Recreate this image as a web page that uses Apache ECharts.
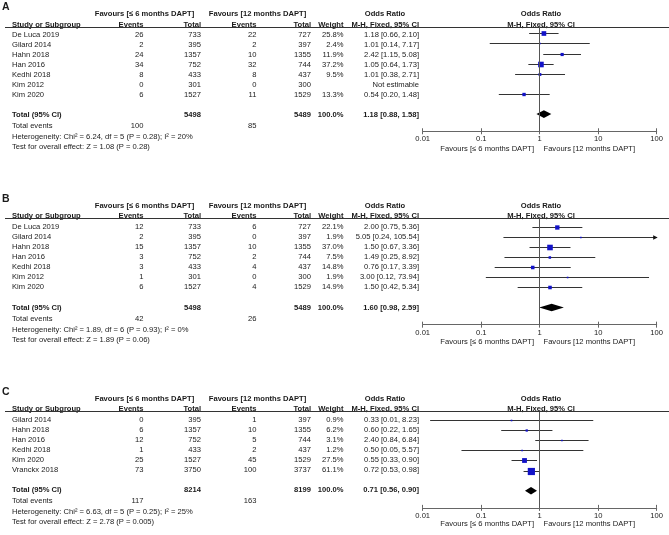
<!DOCTYPE html>
<html><head><meta charset="utf-8">
<script src="https://cdn.jsdelivr.net/npm/echarts@6/dist/echarts.min.js"></script>
<style>html,body{margin:0;padding:0;background:#fff}#c{width:669px;height:535px}</style>
</head><body><div id="c"></div><script>
// ---------------- DATA ----------------
const tickValues = [0.01, 0.1, 1, 10, 100];

// Panel A
const studiesA = ['De Luca 2019','Gilard 2014','Hahn 2018','Han 2016','Kedhi 2018','Kim 2012','Kim 2020'];
const eventsShortA = [26, 2, 24, 34, 8, 0, 6];
const totalShortA = [733, 395, 1357, 752, 433, 301, 1527];
const eventsLongA = [22, 2, 10, 32, 8, 0, 11];
const totalLongA = [727, 397, 1355, 744, 437, 300, 1529];
const weightA = [25.8, 2.4, 11.9, 37.2, 9.5, null, 13.3];
const orA = [1.18, 1.01, 2.42, 1.05, 1.01, null, 0.54];
const lowA = [0.66, 0.14, 1.15, 0.64, 0.38, null, 0.20];
const highA = [2.10, 7.17, 5.08, 1.73, 2.71, null, 1.48];
const totalsA = [5498, 5489];            // participants
const totalEventsA = [100, 85];
const pooledA = [1.18, 0.88, 1.58];      // OR, low, high
const hetA = 'Heterogeneity: Chi\u00b2 = 6.24, df = 5 (P = 0.28); I\u00b2 = 20%';
const testA = 'Test for overall effect: Z = 1.08 (P = 0.28)';

// Panel B
const studiesB = ['De Luca 2019','Gilard 2014','Hahn 2018','Han 2016','Kedhi 2018','Kim 2012','Kim 2020'];
const eventsShortB = [12, 2, 15, 3, 3, 1, 6];
const totalShortB = [733, 395, 1357, 752, 433, 301, 1527];
const eventsLongB = [6, 0, 10, 2, 4, 0, 4];
const totalLongB = [727, 397, 1355, 744, 437, 300, 1529];
const weightB = [22.1, 1.9, 37.0, 7.5, 14.8, 1.9, 14.9];
const orB = [2.00, 5.05, 1.50, 1.49, 0.76, 3.00, 1.50];
const lowB = [0.75, 0.24, 0.67, 0.25, 0.17, 0.12, 0.42];
const highB = [5.36, 105.54, 3.36, 8.92, 3.39, 73.94, 5.34];
const totalsB = [5498, 5489];
const totalEventsB = [42, 26];
const pooledB = [1.60, 0.98, 2.59];
const hetB = 'Heterogeneity: Chi\u00b2 = 1.89, df = 6 (P = 0.93); I\u00b2 = 0%';
const testB = 'Test for overall effect: Z = 1.89 (P = 0.06)';

// Panel C
const studiesC = ['Gilard 2014','Hahn 2018','Han 2016','Kedhi 2018','Kim 2020','Vranckx 2018'];
const eventsShortC = [0, 6, 12, 1, 25, 73];
const totalShortC = [395, 1357, 752, 433, 1527, 3750];
const eventsLongC = [1, 10, 5, 2, 45, 100];
const totalLongC = [397, 1355, 744, 437, 1529, 3737];
const weightC = [0.9, 6.2, 3.1, 1.2, 27.5, 61.1];
const orC = [0.33, 0.60, 2.40, 0.50, 0.55, 0.72];
const lowC = [0.0134, 0.22, 0.84, 0.046, 0.33, 0.53];
const highC = [8.23, 1.65, 6.84, 5.57, 0.90, 0.98];
const totalsC = [8214, 8199];
const totalEventsC = [117, 163];
const pooledC = [0.71, 0.56, 0.90];
const hetC = 'Heterogeneity: Chi\u00b2 = 6.63, df = 5 (P = 0.25); I\u00b2 = 25%';
const testC = 'Test for overall effect: Z = 2.78 (P = 0.005)';

const groupShort = 'Favours [\u2264 6 months DAPT]';
const groupLong = 'Favours [12 months DAPT]';

// ---------------- LAYOUT ----------------
const FONT = '"Liberation Sans", Arial, Helvetica, sans-serif';
const FS = 7.6;
const SP = 10.1;
const TXT = '#1a1a1a';
const COL = {study:12, ev1:143.5, tot1:201, ev2:256.5, tot2:311, wt:343.5, orTxt:419,
             hdrShort:144.5, hdrLong:257.5, orHdr:385, forestL:422.7, forestW:234, forestHdr:541,
             favLeftEnd:534, favRightStart:543.5};

const panels = [
  {label:'A', base:33.3, studies:studiesA, ev1:eventsShortA, t1:totalShortA, ev2:eventsLongA, t2:totalLongA, w:weightA, or:orA, lo:lowA, hi:highA, totals:totalsA, tev:totalEventsA, pooled:pooledA, het:hetA, test:testA},
  {label:'B', base:226.7, studies:studiesB, ev1:eventsShortB, t1:totalShortB, ev2:eventsLongB, t2:totalLongB, w:weightB, or:orB, lo:lowB, hi:highB, totals:totalsB, tev:totalEventsB, pooled:pooledB, het:hetB, test:testB},
  {label:'C', base:420, studies:studiesC, ev1:eventsShortC, t1:totalShortC, ev2:eventsLongC, t2:totalLongC, w:weightC, or:orC, lo:lowC, hi:highC, totals:totalsC, tev:totalEventsC, pooled:pooledC, het:hetC, test:testC}
];

const fmtCI = (o, l, h) => `${o.toFixed(2)} [${l.toFixed(2)}, ${h.toFixed(2)}]`;

const grid = [], xAxis = [], yAxis = [], series = [];

panels.forEach((p, pi) => {
  const n = p.studies.length;
  const T = n + 1;               // total row index
  const AX = T + 1.7;            // forest axis row
  const UL = -0.8;               // header underline row
  const tMin = -3.5, tMax = T + 4.5;
  const gT = grid.length, gF = gT + 1;

  grid.push({left:5, width:664, top:p.base + tMin*SP, height:(tMax - tMin)*SP});
  grid.push({left:COL.forestL, width:COL.forestW, top:p.base + UL*SP, height:(AX - UL)*SP});

  const xT = xAxis.length;
  xAxis.push({gridIndex:gT, type:'value', min:5, max:669, show:false});
  const xF = xAxis.length;
  xAxis.push({gridIndex:gF, type:'log', logBase:10, min:tickValues[0], max:tickValues[tickValues.length-1], position:'bottom',
    axisLine:{onZero:false, lineStyle:{color:'#666', width:1}},
    axisTick:{length:3, lineStyle:{color:'#666'}},
    axisLabel:{fontSize:FS, fontFamily:FONT, color:TXT, margin:4},
    splitLine:{show:false}});
  xAxis.push({gridIndex:gF, type:'log', logBase:10, min:tickValues[0], max:tickValues[tickValues.length-1], position:'bottom',
    axisLine:{show:false, onZero:false},
    axisTick:{inside:true, length:3, lineStyle:{color:'#666'}},
    axisLabel:{show:false}, splitLine:{show:false}});
  const yT = yAxis.length;
  yAxis.push({gridIndex:gT, type:'value', min:tMin, max:tMax, inverse:true, show:false});
  const yF = yAxis.length;
  yAxis.push({gridIndex:gF, type:'value', min:UL, max:AX, inverse:true, show:false});

  // ---- text items ----
  const items = [];
  const add = (x, k, t, a, bold, size) => items.push({x, k, t:String(t), a:a||'left', b:!!bold, s:size||FS});
  add(2, -2.75, p.label, 'left', true, 10.5);
  add(COL.hdrShort, -2.1, groupShort, 'center', true);
  add(COL.hdrLong, -2.1, groupLong, 'center', true);
  add(COL.orHdr, -2.1, 'Odds Ratio', 'center', true);
  add(COL.forestHdr, -2.1, 'Odds Ratio', 'center', true);
  add(COL.study, -1.05, 'Study or Subgroup', 'left', true);
  add(COL.ev1, -1.05, 'Events', 'right', true);
  add(COL.tot1, -1.05, 'Total', 'right', true);
  add(COL.ev2, -1.05, 'Events', 'right', true);
  add(COL.tot2, -1.05, 'Total', 'right', true);
  add(COL.wt, -1.05, 'Weight', 'right', true);
  add(COL.orTxt, -1.05, 'M-H, Fixed, 95% CI', 'right', true);
  add(COL.forestHdr, -1.05, 'M-H, Fixed, 95% CI', 'center', true);
  p.studies.forEach((s, i) => {
    add(COL.study, i, s, 'left');
    add(COL.ev1, i, p.ev1[i], 'right');
    add(COL.tot1, i, p.t1[i], 'right');
    add(COL.ev2, i, p.ev2[i], 'right');
    add(COL.tot2, i, p.t2[i], 'right');
    if (p.w[i] != null) add(COL.wt, i, p.w[i].toFixed(1) + '%', 'right');
    add(COL.orTxt, i, p.or[i] == null ? 'Not estimable' : fmtCI(p.or[i], p.lo[i], p.hi[i]), 'right');
  });
  const wSum = p.w.reduce((a, v) => a + (v || 0), 0);
  add(COL.study, T, 'Total (95% CI)', 'left', true);
  add(COL.tot1, T, p.totals[0], 'right', true);
  add(COL.tot2, T, p.totals[1], 'right', true);
  add(COL.wt, T, (Math.round(wSum / 10) * 10).toFixed(1) + '%', 'right', true);
  add(COL.orTxt, T, fmtCI(p.pooled[0], p.pooled[1], p.pooled[2]), 'right', true);
  add(COL.study, T + 1.1, 'Total events', 'left');
  add(COL.ev1, T + 1.1, p.tev[0], 'right');
  add(COL.ev2, T + 1.1, p.tev[1], 'right');
  add(COL.study, T + 2.2, p.het, 'left');
  add(COL.study, T + 3.2, p.test, 'left');
  add(COL.favLeftEnd, AX + 1.7, groupShort, 'right');
  add(COL.favRightStart, AX + 1.7, groupLong, 'left');

  series.push({
    type:'custom', xAxisIndex:xT, yAxisIndex:yT, silent:true, clip:false,
    data: items.map(d => [d.x, d.k]),
    renderItem: (params, api) => {
      const d = items[params.dataIndex];
      const pt = api.coord([api.value(0), api.value(1)]);
      return {type:'text', x:pt[0], y:pt[1], style:{text:d.t, align:d.a, verticalAlign:'middle',
        fontSize:d.s, fontWeight:d.b ? 'bold' : 'normal', fontFamily:FONT, fill:TXT}};
    }
  });
  // header underline
  series.push({type:'scatter', xAxisIndex:xT, yAxisIndex:yT, data:[], silent:true,
    markLine:{silent:true, symbol:['none','none'], label:{show:false}, animation:false,
      lineStyle:{color:'#333', width:1, type:'solid'}, data:[{yAxis:UL}]}});

  // study estimates
  const est = [];
  p.studies.forEach((s, i) => { if (p.or[i] != null) est.push([p.or[i], i, p.lo[i], p.hi[i], p.w[i]]); });
  series.push({
    type:'custom', xAxisIndex:xF, yAxisIndex:yF, silent:true, clip:false,
    data: est,
    renderItem: (params, api) => {
      const o = api.value(0), k = api.value(1), lo = api.value(2), hi = api.value(3), w = api.value(4);
      const c = api.coord([o, k]);
      const a = api.coord([Math.max(lo, tickValues[0]), k]);
      const b = api.coord([Math.min(hi, tickValues[tickValues.length-1]), k]);
      const y = Math.round(c[1]) + 0.5;
      const sz = Math.max(1.6, Math.sqrt(w) * 0.92);
      const ch = [
        {type:'line', shape:{x1:a[0], y1:y, x2:b[0], y2:y}, style:{stroke:'#333', lineWidth:1}},
        {type:'rect', shape:{x:c[0]-sz/2, y:y-sz/2, width:sz, height:sz}, style:{fill:'#1212c8'}}
      ];
      if (hi > tickValues[tickValues.length-1]) ch.push({type:'polygon', shape:{points:[[b[0]+1, y],[b[0]-3.5, y-2.2],[b[0]-3.5, y+2.2]]}, style:{fill:'#111'}});
      if (lo < tickValues[0]) ch.push({type:'polygon', shape:{points:[[a[0]-1, y],[a[0]+3.5, y-2.2],[a[0]+3.5, y+2.2]]}, style:{fill:'#111'}});
      return {type:'group', children:ch};
    },
    markLine:{silent:true, symbol:['none','none'], label:{show:false}, animation:false,
      lineStyle:{color:'#555', width:1, type:'solid'}, data:[{xAxis:1}]}
  });
  // pooled diamond
  series.push({
    type:'custom', xAxisIndex:xF, yAxisIndex:yF, silent:true, clip:false,
    data: [[p.pooled[0], T, p.pooled[1], p.pooled[2]]],
    renderItem: (params, api) => {
      const k = api.value(1);
      const c = api.coord([api.value(0), k]);
      const a = api.coord([api.value(2), k]);
      const b = api.coord([api.value(3), k]);
      const h = 3.8;
      return {type:'polygon', shape:{points:[[a[0], c[1]],[c[0], c[1]-h],[b[0], c[1]],[c[0], c[1]+h]]}, style:{fill:'#000'}};
    }
  });
});

const chart = echarts.init(document.getElementById('c'), null, {renderer:'canvas'});
chart.setOption({animation:false, backgroundColor:'#fff', grid, xAxis, yAxis, series});
</script></body></html>
